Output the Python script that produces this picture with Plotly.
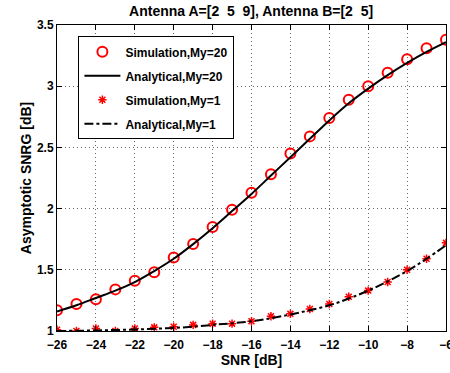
import plotly.graph_objects as go

snr_db = [-26, -25, -24, -23, -22, -21, -20, -19, -18, -17, -16,
          -15, -14, -13, -12, -11, -10, -9, -8, -7, -6]

sim_my20 = [1.17, 1.22, 1.26, 1.34, 1.41, 1.48, 1.60, 1.71, 1.85, 1.99, 2.13,
            2.28, 2.45, 2.59, 2.74, 2.89, 3.00, 3.11, 3.22, 3.31, 3.38]
ana_my20 = [1.16, 1.21, 1.27, 1.33, 1.40, 1.49, 1.59, 1.71, 1.84, 1.98, 2.12,
            2.27, 2.42, 2.57, 2.72, 2.86, 2.98, 3.09, 3.19, 3.28, 3.36]
sim_my1 = [1.01, 1.00, 1.02, 1.00, 1.02, 1.03, 1.035, 1.05, 1.06, 1.06, 1.08,
           1.12, 1.14, 1.18, 1.22, 1.28, 1.33, 1.40, 1.50, 1.59, 1.72]
ana_my1 = [1.00, 1.002, 1.005, 1.008, 1.012, 1.018, 1.025, 1.035, 1.05, 1.063, 1.08,
           1.105, 1.135, 1.17, 1.21, 1.265, 1.33, 1.405, 1.49, 1.59, 1.70]

x_ticks = [-26, -24, -22, -20, -18, -16, -14, -12, -10, -8, -6]
y_ticks = [1, 1.5, 2, 2.5, 3, 3.5]
y_tick_text = ["1", "1.5", "2", "2.5", "3", "3.5"]

FONT = "Liberation Sans, Arial, sans-serif"

fig = go.Figure()
fig.add_trace(go.Scatter(x=snr_db, y=sim_my20, mode="markers", name="<b>Simulation,My=20</b>",
                         legendgroup="a",
                         marker=dict(symbol="circle-open", size=10, color="red",
                                     line=dict(width=2, color="red"))))
fig.add_trace(go.Scatter(x=snr_db, y=ana_my20, mode="lines", name="<b>Analytical,My=20</b>",
                         legendgroup="b", line=dict(color="black", width=2, shape="spline")))
fig.add_trace(go.Scatter(x=snr_db, y=sim_my1, mode="markers", name="<b>Simulation,My=1</b>",
                         legendgroup="c",
                         marker=dict(symbol="asterisk-open", size=7, color="red",
                                     line=dict(width=1.5, color="red"))))
fig.add_trace(go.Scatter(x=snr_db, y=ana_my1, mode="lines", name="<b>Analytical,My=1</b>",
                         legendgroup="d",
                         line=dict(color="black", width=2, dash="dashdot", shape="spline")))

axis_common = dict(showline=True, linecolor="black", linewidth=1, mirror="ticks",
                   ticks="inside", ticklen=5, tickcolor="black",
                   showgrid=True, gridcolor="rgba(0,0,0,0.6)", griddash="1px,3px", gridwidth=1,
                   zeroline=False, automargin=False, ticklabeloverflow="allow",
                   tickfont=dict(family=FONT, size=12, color="black"))

fig.update_xaxes(range=[-26, -6], tickvals=x_ticks,
                 ticktext=["<b>%s</b>" % ("\u2212%d" % -v) for v in x_ticks],
                 ticklabelstandoff=3,
                 title=dict(text="<b>SNR [dB]</b>", font=dict(family=FONT, size=14, color="black"),
                            standoff=1),
                 **axis_common)
fig.update_yaxes(range=[1, 3.5], tickvals=y_ticks,
                 ticktext=["<b>%s</b>" % t for t in y_tick_text],
                 title=dict(text="<b>Asymptotic SNRG [dB]</b>",
                            font=dict(family=FONT, size=14, color="black"), standoff=2),
                 **axis_common)

fig.update_layout(
    width=450, height=373,
    margin=dict(l=57, r=4, t=25, b=42),
    paper_bgcolor="white", plot_bgcolor="white",
    title=dict(text="<b>Antenna A=[2  5  9], Antenna B=[2  5]</b>",
               font=dict(family=FONT, size=14, color="black"),
               x=0.558, xanchor="center", y=0.970, yanchor="middle"),
    showlegend=True,
    legend=dict(x=0.055, y=0.963, xanchor="left", yanchor="top",
                bgcolor="white", bordercolor="black", borderwidth=1,
                font=dict(family=FONT, size=12, color="black"),
                traceorder="grouped", tracegroupgap=5, itemwidth=36),
)

fig.write_html("out.html", config={"displayModeBar": False},
               post_script="document.body.style.margin='0';")
